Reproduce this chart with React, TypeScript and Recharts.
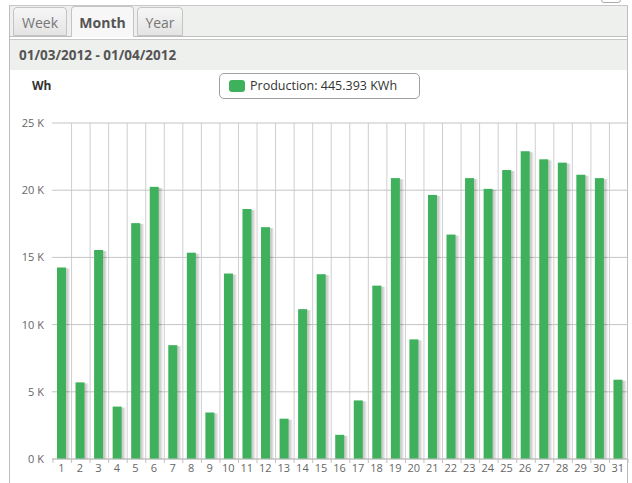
import React from "react";
import { BarChart, Bar, XAxis, YAxis, CartesianGrid } from "recharts";

const days = Array.from({ length: 31 }, (_, i) => String(i + 1));
const production = [
  14250, 5700, 15550, 3900, 17550, 20250, 8470, 15350, 3460, 13800,
  18600, 17250, 3000, 11150, 13750, 1800, 4360, 12900, 20900, 8900,
  19650, 16700, 20900, 20100, 21500, 22900, 22300, 22050, 21150, 20900, 5900,
];
const yTicks = [0, 5000, 10000, 15000, 20000, 25000];
const tabs = ["Week", "Month", "Year"];
const activeTab = "Month";
const dateRange = "01/03/2012 - 01/04/2012";
const unitLabel = "Wh";
const legendLabel = "Production: 445.393 KWh";

const data = days.map((d, i) => ({ day: d, value: production[i] }));

const GREEN = "#3fb15d";
const FONT = "'Open Sans', sans-serif";

const ShadowBar = (props: any) => {
  const { x, y, width, height } = props;
  if (height == null || height <= 0) return null;
  return (
    <g>
      <rect x={x + 1} y={y + 1} width={width + 3} height={height - 1} fill="#000" opacity={0.06} />
      <rect x={x + 1} y={y + 1} width={width + 2} height={height - 1} fill="#000" opacity={0.07} />
      <rect x={x + 1} y={y + 1} width={width + 1} height={height - 1} fill="#000" opacity={0.08} />
      <rect x={x} y={y} width={width} height={height} fill={GREEN} />
    </g>
  );
};

const XTick = (props: any) => {
  const { x, y, payload, index, width } = props;
  const w = typeof width === "number" && width > 0 ? width : 575;
  const step = w / days.length;
  const left = x - step / 2 + 1;
  return (
    <g>
      <line x1={left} y1={y} x2={left} y2={y + 4} stroke="#c0c0c0" />
      {index === days.length - 1 && (
        <line x1={x + step / 2 + 1} y1={y} x2={x + step / 2 + 1} y2={y + 4} stroke="#c0c0c0" />
      )}
      <text x={x} y={y + 13} textAnchor="middle" fill="#666" fontSize={11} fontFamily={FONT}>
        {payload.value}
      </text>
    </g>
  );
};

const tabStyle = (active: boolean, left: number, width: number): React.CSSProperties => ({
  position: "absolute",
  left,
  top: active ? 6 : 7,
  width,
  height: active ? 31 : 29,
  boxSizing: "border-box",
  border: "1px solid #c4c4c4",
  borderBottom: active ? "none" : "1px solid #c4c4c4",
  borderRadius: "4px 4px 0 0",
  background: active ? "#f7f7f7" : "linear-gradient(#f6f6f6, #e4e4e4)",
  color: active ? "#555" : "#777",
  fontWeight: active ? 700 : 400,
  fontSize: 14,
  lineHeight: active ? "31px" : "29px",
  textAlign: "center",
});

const tabGeom = [
  { left: 13, width: 54 },
  { left: 71, width: 63 },
  { left: 137, width: 46 },
];

export default function App() {
  return (
    <div
      style={{
        position: "absolute",
        left: 0,
        top: 0,
        width: 632,
        height: 483,
        overflow: "hidden",
        background: "#fff",
        fontFamily: FONT,
      }}
    >
      {/* small control top-right */}
      <div
        style={{
          position: "absolute",
          left: 601,
          top: -4,
          width: 20,
          height: 7,
          border: "1px solid #aaa",
          borderRadius: 3,
          boxSizing: "border-box",
        }}
      />
      {/* outer frame */}
      <div
        style={{
          position: "absolute",
          left: 9,
          top: 5,
          width: 619,
          height: 500,
          boxSizing: "border-box",
          borderLeft: "1px solid #bdbdbd",
          borderRight: "1px solid #bdbdbd",
          borderTop: "1px solid #c8c8c8",
        }}
      />
      {/* tab strip band */}
      <div
        style={{
          position: "absolute",
          left: 10,
          top: 6,
          width: 617,
          height: 30,
          background: "#eef0ed",
          borderBottom: "1px solid #bdbdbd",
        }}
      />
      {/* header band */}
      <div
        style={{
          position: "absolute",
          left: 10,
          top: 39,
          width: 617,
          height: 31,
          background: "#eef0ed",
          borderTop: "1px solid #c8c8c8",
          boxSizing: "border-box",
        }}
      />
      {tabs.map((t, i) => (
        <div key={t} style={tabStyle(t === activeTab, tabGeom[i].left, tabGeom[i].width)}>
          {t}
        </div>
      ))}
      <div
        style={{
          position: "absolute",
          left: 19,
          top: 45,
          fontSize: 13.5,
          fontWeight: 700,
          color: "#555",
          lineHeight: "20px",
          whiteSpace: "nowrap",
        }}
      >
        {dateRange}
      </div>
      <div
        style={{
          position: "absolute",
          left: 32,
          top: 77,
          fontSize: 12,
          fontWeight: 700,
          color: "#333",
          lineHeight: "18px",
        }}
      >
        {unitLabel}
      </div>
      {/* legend */}
      <div
        style={{
          position: "absolute",
          left: 219,
          top: 73,
          width: 201,
          height: 26,
          boxSizing: "border-box",
          border: "1px solid #a0a0a0",
          borderRadius: 5,
          background: "#fff",
        }}
      >
        <div
          style={{
            position: "absolute",
            left: 9,
            top: 6,
            width: 16,
            height: 12,
            borderRadius: 3,
            background: GREEN,
          }}
        />
        <div
          style={{
            position: "absolute",
            left: 30,
            top: 3,
            fontSize: 12.5,
            color: "#333",
            lineHeight: "18px",
            whiteSpace: "nowrap",
          }}
        >
          {legendLabel}
        </div>
      </div>
      <div style={{ position: "absolute", left: 0, top: 0 }}>
        <BarChart
          width={632}
          height={483}
          data={data}
          margin={{ top: 123, right: 5, bottom: 0, left: 0 }}
          barCategoryGap={0}
        >
          <CartesianGrid
            horizontal={false}
            vertical={true}
            stroke="#cfcfcf"
            verticalCoordinatesGenerator={({ offset }: any) =>
              days.slice(1).map((_, i) => offset.left + ((i + 1) * offset.width) / days.length + 1)
            }
          />
          <CartesianGrid horizontal={true} vertical={false} stroke="#c4c4c4" />
          <XAxis
            dataKey="day"
            height={24}
            interval={0}
            tickLine={false}
            tickSize={0}
            tickMargin={0}
            axisLine={{ stroke: "#c0c0c0" }}
            tick={<XTick />}
          />
          <YAxis
            width={52}
            domain={[0, 25000]}
            ticks={yTicks}
            interval={0}
            axisLine={false}
            tickLine={false}
            tick={{ fill: "#666", fontSize: 11, fontFamily: FONT }}
            tickFormatter={(v: number) => `${v / 1000} K`}
          />
          <Bar dataKey="value" barSize={9} isAnimationActive={false} shape={<ShadowBar />} />
        </BarChart>
      </div>
    </div>
  );
}
